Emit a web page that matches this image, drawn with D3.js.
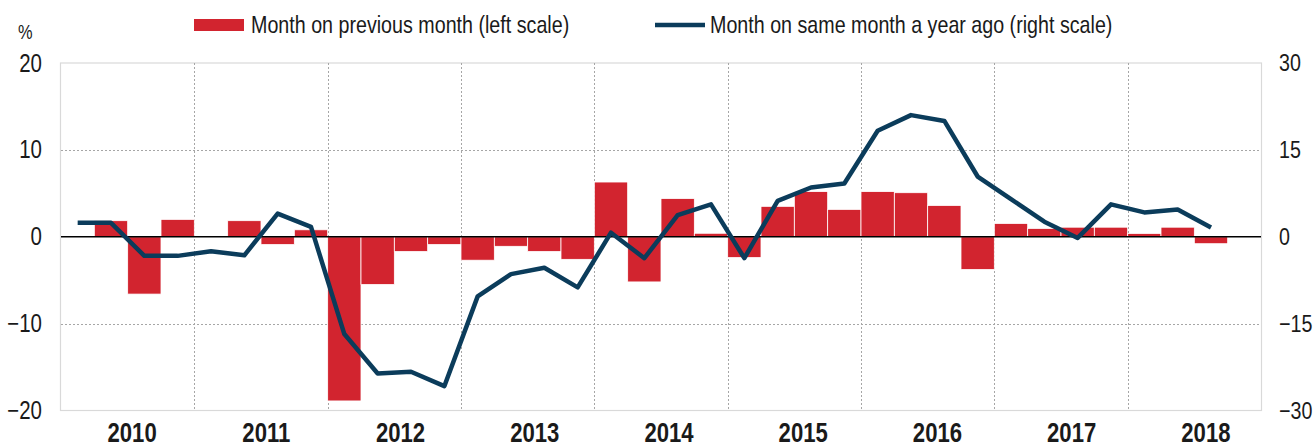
<!DOCTYPE html>
<html>
<head>
<meta charset="utf-8">
<script src="https://cdn.jsdelivr.net/npm/d3@7"></script>
<style>
  body { margin: 0; background: #fff; }
  text { font-family: "Liberation Sans Narrow", "Arial Narrow", "Liberation Sans", sans-serif; fill: #1a1a1a; }
</style>
</head>
<body>
<div class="canva"></div>
<script>
// data (quarterly, 2010 Q1 .. 2018 Q4)
const years = ["2010", "2011", "2012", "2013", "2014", "2015", "2016", "2017", "2018"];
const quarterNames = ["Q1", "Q2", "Q3", "Q4"];

// month on previous month, left scale
const momValues = [
  null, 1.85, -6.6, 2.0,
  null, 1.85, -0.9, 0.8,
  -18.9, -5.5, -1.7, -0.9,
  -2.7, -1.1, -1.7, -2.6,
  6.3, -5.2, 4.4, 0.4,
  -2.4, 3.5, 5.2, 3.15,
  5.2, 5.07, 3.6, -3.77,
  1.53, 0.96, 1.1, 1.1,
  0.38, 1.1, -0.8, null
];

// month on same month a year ago, right scale
const yoyValues = [
  2.4, 2.4, -3.3, -3.3,
  -2.5, -3.2, 4.0, 1.7,
  -16.8, -23.6, -23.3, -25.8,
  -10.3, -6.45, -5.35, -8.75,
  0.7, -3.7, 3.75, 5.6,
  -3.7, 6.2, 8.5, 9.2,
  18.3, 21.0, 20.0, 10.4,
  6.5, 2.6, -0.2, 5.6,
  4.2, 4.7, 1.6, null
];

const leftTicks = [-20, -10, 0, 10, 20];
const rightTicks = [-30, -15, 0, 15, 30];
const legendLabels = ["Month on previous month (left scale)", "Month on same month a year ago (right scale)"];

const barColor = "#d2242f";
const lineColor = "#0b3c5b";

const width = 1313, height = 447;
const plot = {left: 61, right: 1261, top: 63, bottom: 410.5};

// no narrow font installed -> squeeze the regular one horizontally
const squeeze = 0.82;
function narrow(sel) {
  sel.attr("transform", `scale(${squeeze},1)`);
}

const svg = d3.select(".canva").append("svg")
  .attr("width", width)
  .attr("height", height);

// quarter keys
const quarters = [];
years.forEach(y => quarterNames.forEach(q => quarters.push(y + " " + q)));

const x = d3.scaleBand().domain(quarters).range([plot.left, plot.right]).padding(0);
const yearX = d3.scaleBand().domain(years).range([plot.left, plot.right]);
// year labels sit a little right of the year centres in the original
const yearLabelX = d3.scaleBand().domain(years).range([plot.left + 4, plot.right + 12]);
const yLeft = d3.scaleLinear().domain([-20, 20]).range([plot.bottom, plot.top]);
const yRight = d3.scaleLinear().domain([-30, 30]).range([plot.bottom, plot.top]);

const data = quarters.map((q, i) => ({q: q, mom: momValues[i], yoy: yoyValues[i]}));

// frame
svg.append("rect")
  .attr("x", plot.left - 0.5)
  .attr("y", plot.top)
  .attr("width", plot.right - plot.left + 1)
  .attr("height", plot.bottom - plot.top)
  .attr("fill", "none")
  .attr("stroke", "#d9d9d9")
  .attr("stroke-width", 1.2);

// horizontal grid
svg.append("g")
  .selectAll("line")
  .data(leftTicks.filter(d => d !== 0 && Math.abs(d) !== 20))
  .join("line")
  .attr("x1", plot.left).attr("x2", plot.right)
  .attr("y1", d => Math.round(yLeft(d)) + 0.5)
  .attr("y2", d => Math.round(yLeft(d)) + 0.5)
  .attr("stroke", "#a6a6a6")
  .attr("stroke-dasharray", "2,2")
  .attr("stroke-width", 1);

// vertical grid at year boundaries
svg.append("g")
  .selectAll("line")
  .data(years.slice(1))
  .join("line")
  .attr("x1", d => Math.round(yearX(d)) + 0.5)
  .attr("x2", d => Math.round(yearX(d)) + 0.5)
  .attr("y1", plot.top).attr("y2", plot.bottom)
  .attr("stroke", "#a6a6a6")
  .attr("stroke-dasharray", "2,2")
  .attr("stroke-width", 1);

// bars
svg.append("g")
  .selectAll("rect")
  .data(data.filter(d => d.mom != null))
  .join("rect")
  .attr("x", d => x(d.q))
  .attr("width", x.bandwidth())
  .attr("y", d => yLeft(Math.max(0, d.mom)))
  .attr("height", d => Math.abs(yLeft(d.mom) - yLeft(0)))
  .attr("fill", barColor)
  .attr("stroke", "#fff")
  .attr("stroke-width", 0.8);

// zero line
svg.append("line")
  .attr("x1", plot.left).attr("x2", plot.right)
  .attr("y1", yLeft(0)).attr("y2", yLeft(0))
  .attr("stroke", "#000")
  .attr("stroke-width", 1.3);

// year-on-year line
const line = d3.line()
  .defined(d => d.yoy != null)
  .x(d => x(d.q) + x.bandwidth() / 2)
  .y(d => yRight(d.yoy));

svg.append("path")
  .datum(data)
  .attr("d", line)
  .attr("fill", "none")
  .attr("stroke", lineColor)
  .attr("stroke-width", 4.5)
  .attr("stroke-linejoin", "round");

// left axis labels
const leftAxis = svg.append("g")
  .attr("transform", `translate(42,0)`)
  .call(d3.axisLeft(yLeft).tickValues(leftTicks).tickSize(0).tickPadding(0).tickFormat(d3.format("d")));
leftAxis.select(".domain").remove();
leftAxis.selectAll("text")
  .style("font-family", null)
  .attr("font-size", 25)
  .attr("fill", "#1a1a1a")
  .call(narrow);

// right axis labels
const rightAxis = svg.append("g")
  .attr("transform", `translate(1279,0)`)
  .call(d3.axisRight(yRight).tickValues(rightTicks).tickSize(0).tickPadding(0).tickFormat(d3.format("d")));
rightAxis.select(".domain").remove();
rightAxis.selectAll("text")
  .style("font-family", null)
  .attr("font-size", 24)
  .attr("fill", "#1a1a1a")
  .call(narrow);

// year labels
const bottomAxis = svg.append("g")
  .attr("transform", `translate(0,${plot.bottom})`)
  .call(d3.axisBottom(yearLabelX).tickSize(0).tickPadding(12));
bottomAxis.select(".domain").remove();
bottomAxis.selectAll("text")
  .style("font-family", null)
  .attr("font-size", 27)
  .attr("font-weight", "bold")
  .attr("fill", "#111")
  .call(narrow);

// unit
svg.append("g")
  .attr("transform", "translate(18,39)")
  .append("text")
  .attr("font-size", 20)
  .text("%")
  .call(narrow);

// legend
const legend = svg.append("g");
legend.append("rect")
  .attr("x", 194).attr("y", 19)
  .attr("width", 50).attr("height", 12)
  .attr("fill", barColor);
legend.append("g")
  .attr("transform", "translate(251,25)")
  .append("text")
  .attr("dy", "0.35em")
  .attr("font-size", 24)
  .text(legendLabels[0])
  .call(narrow);
legend.append("line")
  .attr("x1", 655).attr("x2", 705)
  .attr("y1", 25).attr("y2", 25)
  .attr("stroke", lineColor)
  .attr("stroke-width", 4.5);
legend.append("g")
  .attr("transform", "translate(710,25)")
  .append("text")
  .attr("dy", "0.35em")
  .attr("font-size", 24)
  .text(legendLabels[1])
  .call(narrow);
</script>
</body>
</html>
